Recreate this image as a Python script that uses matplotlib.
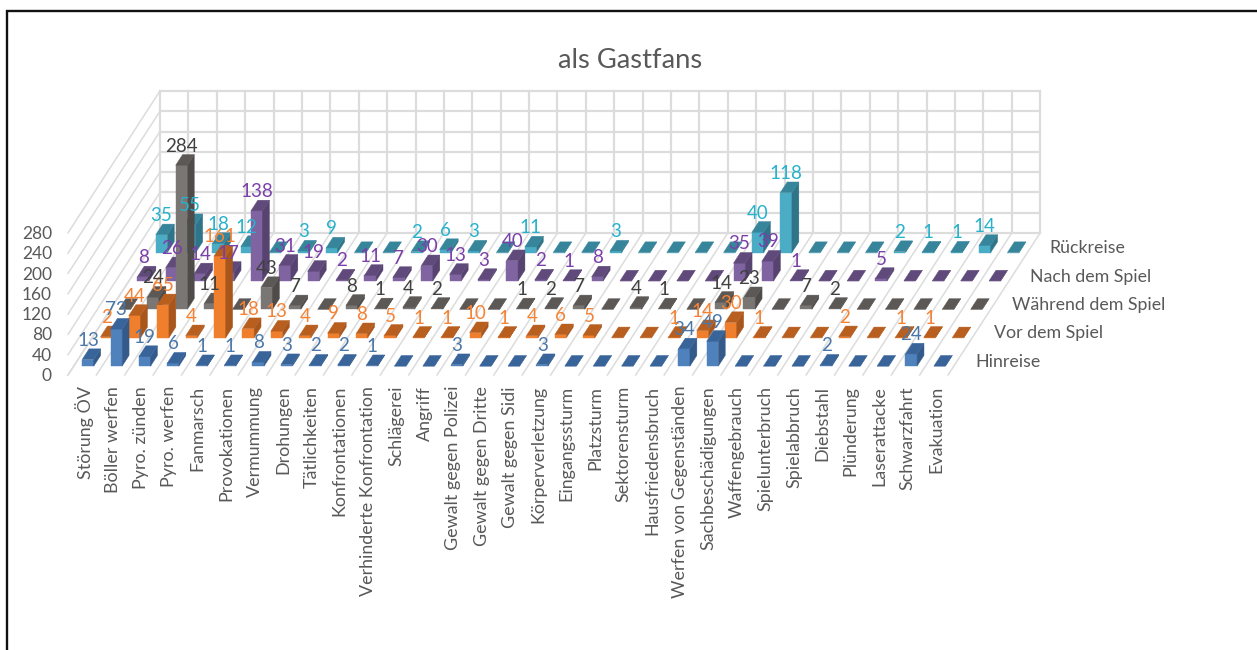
import matplotlib
matplotlib.use("Agg")
import matplotlib.pyplot as plt
from matplotlib.patches import Polygon

plt.rcParams['font.family'] = ['Lato', 'DejaVu Sans']

categories = ['Störung ÖV', 'Böller werfen', 'Pyro. zünden', 'Pyro. werfen', 'Fanmarsch',
              'Provokationen', 'Vermummung', 'Drohungen', 'Tätlichkeiten', 'Konfrontationen',
              'Verhinderte Konfrontation', 'Schlägerei', 'Angriff', 'Gewalt gegen Polizei',
              'Gewalt gegen Dritte', 'Gewalt gegen Sidi', 'Körperverletzung', 'Eingangssturm',
              'Platzsturm', 'Sektorensturm', 'Hausfriedensbruch', 'Werfen von Gegenständen',
              'Sachbeschädigungen', 'Waffengebrauch', 'Spielunterbruch', 'Spielabbruch',
              'Diebstahl', 'Plünderung', 'Laserattacke', 'Schwarzfahrt', 'Evakuation']
series_names = ['Hinreise', 'Vor dem Spiel', 'Während dem Spiel', 'Nach dem Spiel', 'Rückreise']
y_ticks = [0, 40, 80, 120, 160, 200, 240, 280]

hinreise = [13, 73, 19, 6, 1, 1, 8, 3, 2, 2, 1, 0, 0, 3, 0, 0, 3, 0, 0, 0, 0, 34, 49, 0, 0, 0, 2, 0, 0, 24, 0]
vor_spiel = [2, 44, 65, 4, 161, 18, 13, 4, 9, 8, 5, 1, 1, 10, 1, 4, 6, 5, 0, 0, 1, 14, 30, 1, 0, 0, 2, 0, 1, 1, 0]
waehrend_spiel = [0, 24, 284, 11, 0, 43, 7, 0, 8, 1, 4, 2, 0, 0, 1, 2, 7, 0, 4, 1, 0, 14, 23, 0, 7, 2, 0, 0, 0, 0, 0]
nach_spiel = [8, 26, 14, 17, 138, 31, 19, 2, 11, 7, 30, 13, 3, 40, 2, 1, 8, 0, 0, 0, 0, 35, 39, 1, 0, 0, 5, 0, 0, 0, 0]
rueckreise = [35, 55, 18, 12, 0, 3, 9, 0, 0, 2, 6, 3, 0, 11, 0, 0, 3, 0, 0, 0, 0, 40, 118, 0, 0, 0, 2, 1, 1, 14, 0]
all_series = [hinreise, vor_spiel, waehrend_spiel, nach_spiel, rueckreise]

front = ['#4F81BD', '#F07F2D', '#7A7674', '#8064A2', '#4BACC6']
top = ['#38649A', '#B85F20', '#5C5856', '#604A7B', '#37859B']
side = ['#345A8A', '#A8561C', '#4E4B49', '#56436F', '#2F7488']
label_col = ['#4A76A8', '#F58233', '#404040', '#7A3FA8', '#27B2CC']
grid_col = '#DCDCDC'
text_col = '#595959'

# oblique view, all in pixels of the image
X0, Y0 = 68, 375
CELL_X = 28.39
ROW_X, ROW_Y = 18.4, 28.4
PER_UNIT = 20.3 / 40
BAR_W = 0.41
BAR_D = 0.376


def proj(c, d, v=0):
    return (X0 + CELL_X * c + ROW_X * d, Y0 - ROW_Y * d - PER_UNIT * v)


fig = plt.figure(figsize=(12.57, 6.5), dpi=100)
ax = fig.add_axes([0, 0, 1, 1])
ax.set_xlim(0, 1257)
ax.set_ylim(650, 0)
ax.axis('off')

# image frame, only left and top show up
ax.plot([7, 7, 1257], [650, 11, 11], color='#111111', lw=1.7, solid_joinstyle='miter')

n = len(categories)
nd = len(series_names)
vmax = y_ticks[-1]

# walls and floor
for t in y_ticks:
    ax.plot(*zip(proj(0, nd, t), proj(n, nd, t)), color=grid_col, lw=1.6, zorder=1)
    ax.plot(*zip(proj(0, 0, t), proj(0, nd, t)), color=grid_col, lw=1.1, zorder=1)
for c in range(n + 1):
    ax.plot(*zip(proj(c, nd, 0), proj(c, nd, vmax)), color=grid_col, lw=1.6, zorder=1)
    ax.plot(*zip(proj(c, 0, 0), proj(c, nd, 0)), color=grid_col, lw=1.1, zorder=1)

# bars, back row first
z = 2
for d in range(nd - 1, -1, -1):
    for c in range(n - 1, -1, -1):
        v = all_series[d][c]
        c0, c1 = c + 0.5 - BAR_W / 2, c + 0.5 + BAR_W / 2
        d0, d1 = d + 0.5 - BAR_D / 2, d + 0.5 + BAR_D / 2
        faces = [
            ([proj(c0, d0, 0), proj(c1, d0, 0), proj(c1, d0, v), proj(c0, d0, v)], front[d]),
            ([proj(c1, d0, 0), proj(c1, d1, 0), proj(c1, d1, v), proj(c1, d0, v)], side[d]),
            ([proj(c0, d0, v), proj(c1, d0, v), proj(c1, d1, v), proj(c0, d1, v)], top[d]),
        ]
        for pts, col in faces:
            ax.add_patch(Polygon(pts, closed=True, facecolor=col, edgecolor=col, lw=0.3, zorder=z))
        z += 0.001

# value labels above everything
for d, vals in enumerate(all_series):
    for c, v in enumerate(vals):
        if v == 0:
            continue
        x = proj(c + 0.5, d + 0.5 - BAR_D / 2, v)[0]
        y = proj(c + 0.5, d + 0.5 + BAR_D / 2, v)[1] - 8.5
        ax.text(x, y, str(v), color=label_col[d], fontsize=13.5, ha='center', va='center', zorder=50)

# axis texts
for t in y_ticks:
    ax.text(52, proj(0, 0, t)[1] + 1, str(t), color=text_col, fontsize=12.5, ha='right', va='center')
for c, name in enumerate(categories):
    ax.text(proj(c + 0.5, 0)[0] + 2, 386, name, color=text_col, fontsize=12.85, rotation=90, ha='center', va='top')
for d, name in enumerate(series_names):
    x, y = proj(n, d + 0.5)
    ax.text(x + 18, y + 1, name, color=text_col, fontsize=12.8, ha='left', va='center')

ax.text(630, 60, 'als Gastfans', color=text_col, fontsize=19.7, ha='center', va='center')

fig.savefig('out.png', dpi=100)
